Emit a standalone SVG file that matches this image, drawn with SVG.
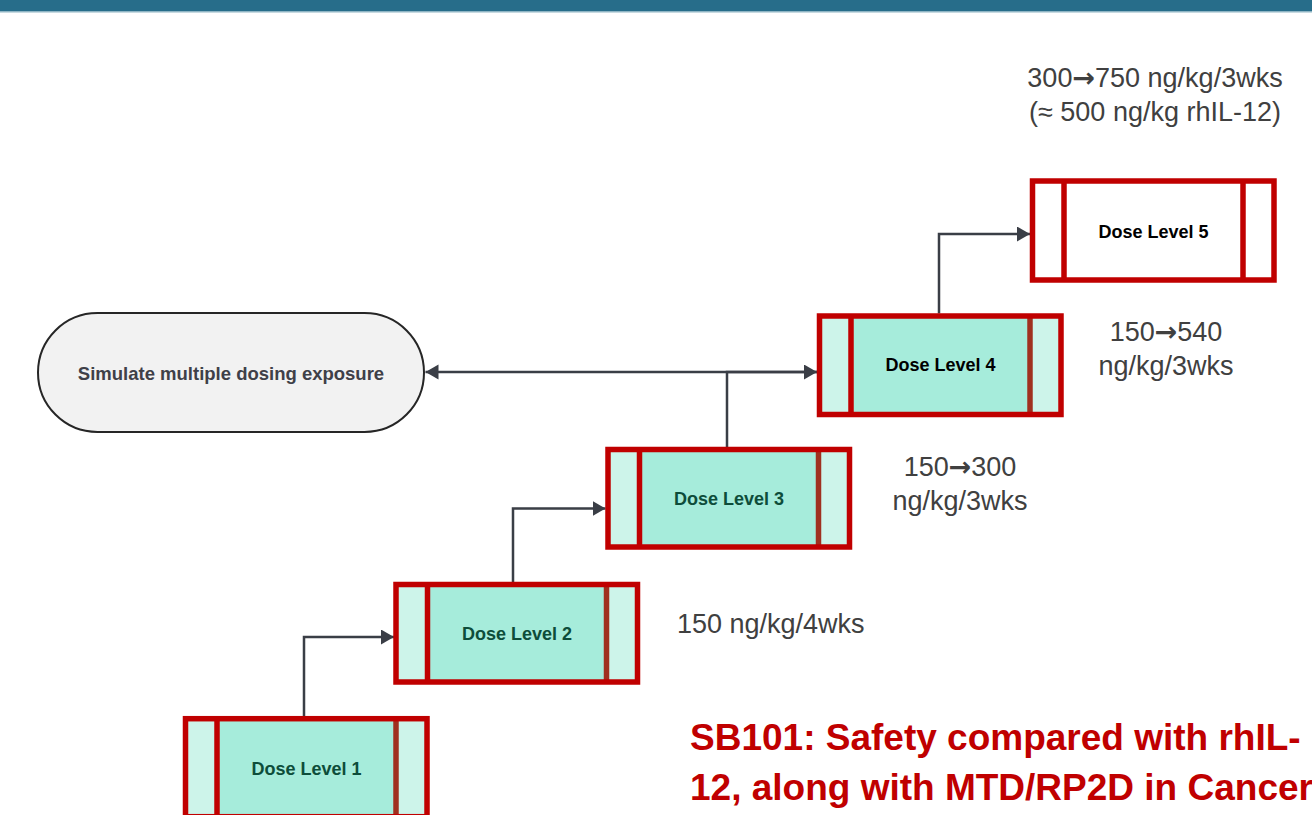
<svg xmlns="http://www.w3.org/2000/svg" width="1312" height="815" viewBox="0 0 1312 815">
<defs>
<marker id="ah" markerWidth="14" markerHeight="16" refX="13" refY="7.5" orient="auto" markerUnits="userSpaceOnUse"><path d="M0,0 L13,7.5 L0,15 z" fill="#3a3e46"/></marker>
<style>
.side{fill:#cdf4ea}
.ctr{fill:#a6ecdb}
.frame{fill:none;stroke:#c00000;stroke-width:5.5}
.divl{stroke:#c00000;stroke-width:5.5}
.divr{stroke:#a0301f;stroke-width:5.5}
.dl{font-family:"Liberation Sans",Arial,sans-serif;font-weight:bold;font-size:18px;text-anchor:middle;fill:#0d4d3a}
.dlk{fill:#000}
.lbl{font-family:"Liberation Sans",Arial,sans-serif;font-size:27px;fill:#404040}
.arr{font-family:"DejaVu Sans",sans-serif;font-weight:bold}
.conn{fill:none;stroke:#3a3e46;stroke-width:2.5}
.title{font-family:"Liberation Sans",Arial,sans-serif;font-weight:bold;font-size:37px;fill:#c00000}
</style>
</defs>
<rect width="1312" height="815" fill="#ffffff"/>
<rect x="0" y="0" width="1312" height="11" fill="#276d8a"/>
<rect x="0" y="11" width="1312" height="1.5" fill="#8fb5c4"/>

<g id="connectors">
<path class="conn" d="M304,716 V637 H394" marker-end="url(#ah)"/>
<path class="conn" d="M513,582 V508.5 H605.5" marker-end="url(#ah)"/>
<path class="conn" d="M727,447 V372 H817" marker-end="url(#ah)"/>
<path class="conn" d="M817,372 H425.5" marker-end="url(#ah)"/>
<path class="conn" d="M939,313.5 V234 H1030" marker-end="url(#ah)"/>
</g>

<g id="simulate">
<rect x="38" y="313" width="386" height="119" rx="59.5" ry="59.5" fill="#f2f2f2" stroke="#262626" stroke-width="2"/>
<text x="231" y="380" style="font-family:'Liberation Sans',Arial,sans-serif;font-weight:bold;font-size:18.5px;text-anchor:middle;fill:#3f4048">Simulate multiple dosing exposure</text>
</g>

<g id="dose1" transform="translate(185.5,718.7)">
<rect class="side" x="0" y="0" width="241.5" height="98"/>
<rect class="ctr" x="31.5" y="0" width="179" height="98"/>
<line class="divl" x1="31.5" y1="0" x2="31.5" y2="98"/>
<line class="divr" x1="210.5" y1="0" x2="210.5" y2="98"/>
<rect class="frame" x="0" y="0" width="241.5" height="98"/>
<text class="dl" x="121" y="56">Dose Level 1</text>
</g>

<g id="dose2" transform="translate(396,584.5)">
<rect class="side" x="0" y="0" width="241.5" height="97.5"/>
<rect class="ctr" x="31.5" y="0" width="179" height="97.5"/>
<line class="divl" x1="31.5" y1="0" x2="31.5" y2="97.5"/>
<line class="divr" x1="210.5" y1="0" x2="210.5" y2="97.5"/>
<rect class="frame" x="0" y="0" width="241.5" height="97.5"/>
<text class="dl" x="121" y="55">Dose Level 2</text>
</g>

<g id="dose3" transform="translate(608,449.5)">
<rect class="side" x="0" y="0" width="241.5" height="97.5"/>
<rect class="ctr" x="31.5" y="0" width="179" height="97.5"/>
<line class="divl" x1="31.5" y1="0" x2="31.5" y2="97.5"/>
<line class="divr" x1="210.5" y1="0" x2="210.5" y2="97.5"/>
<rect class="frame" x="0" y="0" width="241.5" height="97.5"/>
<text class="dl" x="121" y="55">Dose Level 3</text>
</g>

<g id="dose4" transform="translate(819.5,316)">
<rect class="side" x="0" y="0" width="241.5" height="98.5"/>
<rect class="ctr" x="31.5" y="0" width="179" height="98.5"/>
<line class="divl" x1="31.5" y1="0" x2="31.5" y2="98.5"/>
<line class="divr" x1="210.5" y1="0" x2="210.5" y2="98.5"/>
<rect class="frame" x="0" y="0" width="241.5" height="98.5"/>
<text class="dl dlk" x="121" y="55">Dose Level 4</text>
</g>

<g id="dose5" transform="translate(1032.5,181)">
<rect x="0" y="0" width="241.5" height="99" fill="#ffffff"/>
<line class="divl" x1="31.5" y1="0" x2="31.5" y2="99"/>
<line class="divl" x1="210.5" y1="0" x2="210.5" y2="99"/>
<rect class="frame" x="0" y="0" width="241.5" height="99"/>
<text class="dl dlk" x="121" y="57">Dose Level 5</text>
</g>

<g id="labels">
<text class="lbl" x="1155" y="87" text-anchor="middle">300<tspan class="arr">→</tspan>750 ng/kg/3wks</text>
<text class="lbl" x="1155" y="121" text-anchor="middle">(≈ 500 ng/kg rhIL-12)</text>
<text class="lbl" x="1166" y="341" text-anchor="middle">150<tspan class="arr">→</tspan>540</text>
<text class="lbl" x="1166" y="375" text-anchor="middle">ng/kg/3wks</text>
<text class="lbl" x="960" y="476" text-anchor="middle">150<tspan class="arr">→</tspan>300</text>
<text class="lbl" x="960" y="510" text-anchor="middle">ng/kg/3wks</text>
<text class="lbl" x="677" y="633">150 ng/kg/4wks</text>
</g>

<g id="title">
<text class="title" x="690" y="750">SB101: Safety compared with rhIL-</text>
<text class="title" x="690" y="800">12, along with MTD/RP2D in Cancer</text>
</g>
</svg>
